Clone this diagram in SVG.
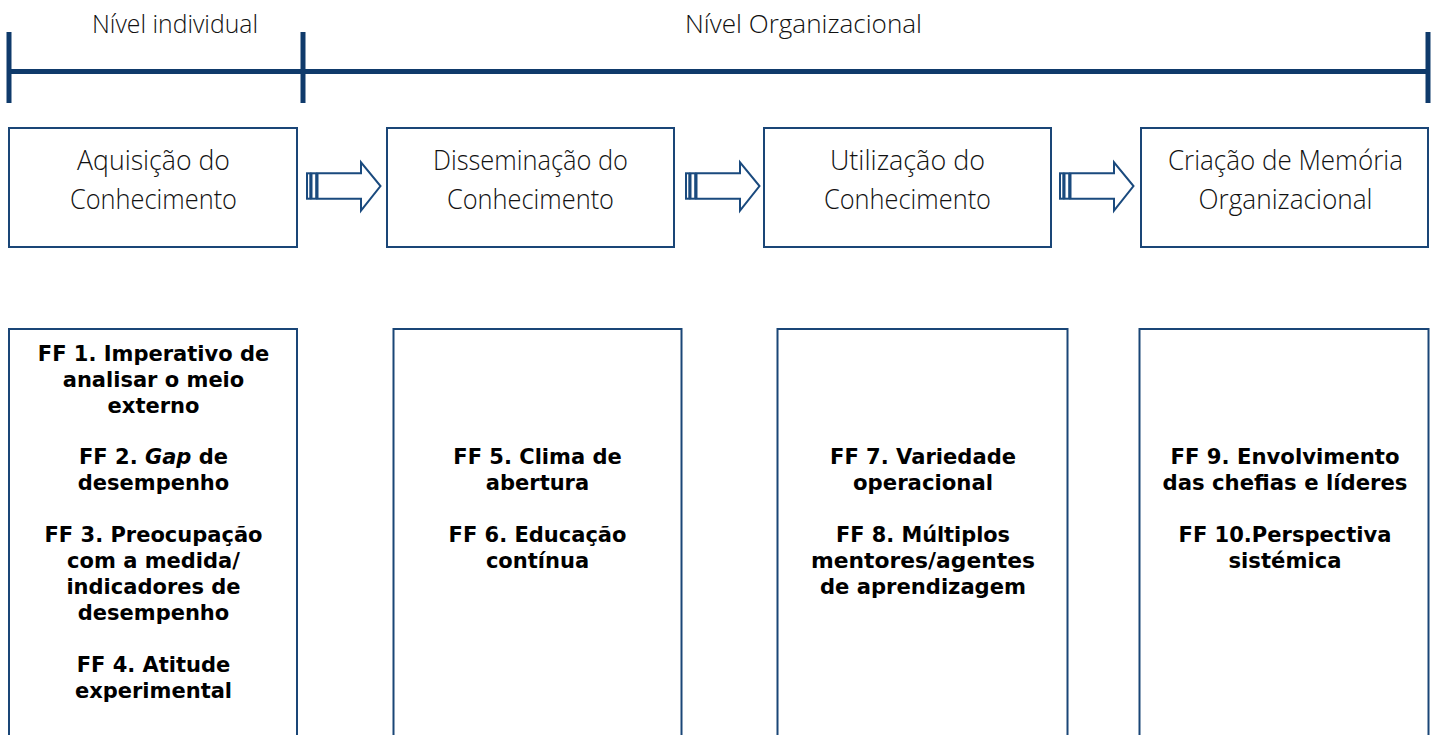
<svg xmlns="http://www.w3.org/2000/svg" width="1434" height="735" viewBox="0 0 1434 735">
<style>
.bar{stroke:#0F3A6B;stroke-width:5;fill:none}
.box{fill:#fff;stroke:#1A4677;stroke-width:2}
.arr{fill:#fff;stroke:#1A4A7E;stroke-width:2}
.pap{font-family:"Open Sans","DejaVu Sans",sans-serif;font-weight:300;font-size:27px;fill:#111;text-anchor:middle}
.lvl{font-family:"Open Sans","DejaVu Sans",sans-serif;font-weight:300;font-size:26px;fill:#111;text-anchor:middle}
.ff{font-family:"DejaVu Sans","Liberation Sans",sans-serif;font-weight:bold;font-size:21px;fill:#000;text-anchor:middle}
</style>
<rect width="1434" height="735" fill="#fff"/>
<g id="scale">
<line class="bar" x1="8" y1="71.5" x2="1426" y2="71.5"/>
<line class="bar" x1="9" y1="32" x2="9" y2="103"/>
<line class="bar" x1="303" y1="32" x2="303" y2="103"/>
<line class="bar" x1="1428" y1="32" x2="1428" y2="103"/>
<text class="lvl" x="175" y="33" textLength="166" lengthAdjust="spacingAndGlyphs">Nível individual</text>
<text class="lvl" x="803.5" y="33" textLength="237" lengthAdjust="spacingAndGlyphs">Nível Organizacional</text>
</g>
<g id="n1">
<rect class="box" x="9" y="128" width="288" height="119"/>
<text class="pap" x="153.5" y="170" textLength="153" lengthAdjust="spacingAndGlyphs">Aquisição do</text>
<text class="pap" x="153.5" y="209" textLength="167" lengthAdjust="spacingAndGlyphs">Conhecimento</text>
</g>
<g id="n2">
<rect class="box" x="387" y="128" width="287" height="119"/>
<text class="pap" x="530.5" y="170" textLength="195" lengthAdjust="spacingAndGlyphs">Disseminação do</text>
<text class="pap" x="530.5" y="209" textLength="167" lengthAdjust="spacingAndGlyphs">Conhecimento</text>
</g>
<g id="n3">
<rect class="box" x="764" y="128" width="287" height="119"/>
<text class="pap" x="907.5" y="170" textLength="155" lengthAdjust="spacingAndGlyphs">Utilização do</text>
<text class="pap" x="907.5" y="209" textLength="167" lengthAdjust="spacingAndGlyphs">Conhecimento</text>
</g>
<g id="n4">
<rect class="box" x="1141" y="128" width="287" height="119"/>
<text class="pap" x="1285.5" y="170" textLength="235" lengthAdjust="spacingAndGlyphs">Criação de Memória</text>
<text class="pap" x="1285.5" y="209" textLength="174" lengthAdjust="spacingAndGlyphs">Organizacional</text>
</g>
<g id="connectors">
<g transform="translate(307,0)">
<rect class="arr" x="0" y="173.3" width="3.3" height="25.4"/>
<rect class="arr" x="4.5" y="173.3" width="4.7" height="25.4"/>
<path class="arr" d="M10.5,173.3 H54 V162.3 L73.5,186 L54,210.7 V198.7 H10.5 Z"/>
</g>
<g transform="translate(686,0)">
<rect class="arr" x="0" y="173.3" width="3.3" height="25.4"/>
<rect class="arr" x="4.5" y="173.3" width="4.7" height="25.4"/>
<path class="arr" d="M10.5,173.3 H54 V162.3 L73.5,186 L54,210.7 V198.7 H10.5 Z"/>
</g>
<g transform="translate(1060,0)">
<rect class="arr" x="0" y="173.3" width="3.3" height="25.4"/>
<rect class="arr" x="4.5" y="173.3" width="4.7" height="25.4"/>
<path class="arr" d="M10.5,173.3 H54 V162.3 L73.5,186 L54,210.7 V198.7 H10.5 Z"/>
</g>
</g>
<g id="f1">
<rect class="box" x="9" y="329" width="288" height="420"/>
<text class="ff" x="153.5" y="361">FF 1. Imperativo de</text>
<text class="ff" x="153.5" y="387">analisar o meio</text>
<text class="ff" x="153.5" y="413">externo</text>
<text class="ff" x="153.5" y="464">FF 2. <tspan font-style="italic">Gap</tspan> de</text>
<text class="ff" x="153.5" y="490">desempenho</text>
<text class="ff" x="153.5" y="542">FF 3. Preocupação</text>
<text class="ff" x="153.5" y="568">com a medida/</text>
<text class="ff" x="153.5" y="594">indicadores de</text>
<text class="ff" x="153.5" y="620">desempenho</text>
<text class="ff" x="153.5" y="672">FF 4. Atitude</text>
<text class="ff" x="153.5" y="698">experimental</text>
</g>
<g id="f2">
<rect class="box" x="393.5" y="329" width="288" height="420"/>
<text class="ff" x="537.5" y="464">FF 5. Clima de</text>
<text class="ff" x="537.5" y="490">abertura</text>
<text class="ff" x="537.5" y="542">FF 6. Educação</text>
<text class="ff" x="537.5" y="568">contínua</text>
</g>
<g id="f3">
<rect class="box" x="777.5" y="329" width="290" height="420"/>
<text class="ff" x="923" y="464" textLength="186" lengthAdjust="spacingAndGlyphs">FF 7. Variedade</text>
<text class="ff" x="923" y="490" textLength="140" lengthAdjust="spacingAndGlyphs">operacional</text>
<text class="ff" x="923" y="542" textLength="174" lengthAdjust="spacingAndGlyphs">FF 8. Múltiplos</text>
<text class="ff" x="923" y="568" textLength="224" lengthAdjust="spacingAndGlyphs">mentores/agentes</text>
<text class="ff" x="923" y="594" textLength="206" lengthAdjust="spacingAndGlyphs">de aprendizagem</text>
</g>
<g id="f4">
<rect class="box" x="1139.5" y="329" width="289" height="420"/>
<text class="ff" x="1285" y="464" textLength="229" lengthAdjust="spacingAndGlyphs">FF 9. Envolvimento</text>
<text class="ff" x="1285" y="490" textLength="245" lengthAdjust="spacingAndGlyphs">das chefias e líderes</text>
<text class="ff" x="1285" y="542" textLength="213" lengthAdjust="spacingAndGlyphs">FF 10.Perspectiva</text>
<text class="ff" x="1285" y="568" textLength="113" lengthAdjust="spacingAndGlyphs">sistémica</text>
</g>
</svg>
